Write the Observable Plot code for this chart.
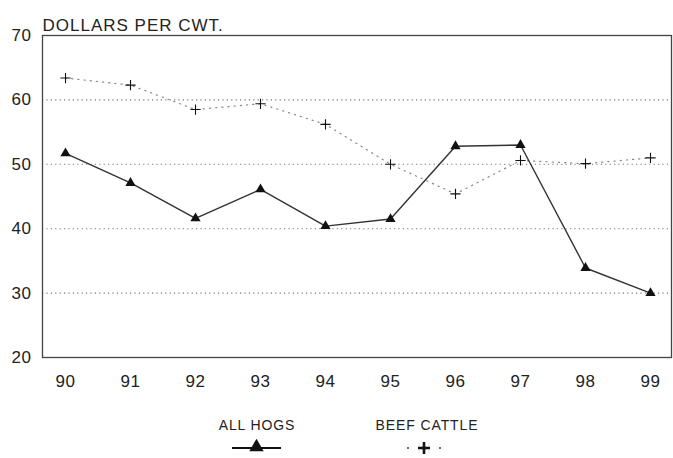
<!DOCTYPE html>
<html>
<head>
<meta charset="utf-8">
<script src="https://cdn.jsdelivr.net/npm/d3@7"></script>
<script src="https://cdn.jsdelivr.net/npm/@observablehq/plot@0.6"></script>
<style>
  html, body { margin: 0; padding: 0; background: #fff; }
  body { width: 673px; height: 458px; overflow: hidden; font-family: "Liberation Sans", Arial, sans-serif; color: #222; }
  #legend { position: relative; width: 673px; height: 58px; }
  .lg { position: absolute; font-size: 14px; letter-spacing: 0.9px; transform: translate(-50%, -50%); white-space: nowrap; }
  .sym { position: absolute; }
  #chart svg g[aria-label="x-axis tick label"] text, #chart svg g[aria-label="y-axis tick label"] text { letter-spacing: 0.6px; }
  #chart svg g[aria-label="text"] text { letter-spacing: 1px; }
</style>
</head>
<body>
<div id="chart"></div>
<div id="legend"></div>
<script>
const years = [90, 91, 92, 93, 94, 95, 96, 97, 98, 99];
const hogs = [51.7, 47.1, 41.6, 46.1, 40.4, 41.5, 52.8, 53.0, 33.9, 30.0];
const cattle = [63.4, 62.3, 58.5, 59.4, 56.2, 50.0, 45.4, 50.6, 50.1, 51.0];
const yTicks = [20, 30, 40, 50, 60, 70];
const gridValues = [30, 40, 50, 60];
const yLabel = "DOLLARS PER CWT.";
const seriesNames = ["ALL HOGS", "BEEF CATTLE"];

const hogData = years.map((y, i) => ({year: y, value: hogs[i]}));
const cattleData = years.map((y, i) => ({year: y, value: cattle[i]}));

const chart = Plot.plot({
  width: 673,
  height: 400,
  marginLeft: 42,
  marginRight: 2,
  marginTop: 35,
  marginBottom: 43,
  style: {fontFamily: "'Liberation Sans', Arial, sans-serif", fontSize: "17px", color: "#222", background: "#fff"},
  x: {domain: [89.646, 99.323], ticks: years, tickFormat: d => String(d), tickSize: 0, tickPadding: 17, label: null},
  y: {domain: [20, 70], ticks: yTicks, tickSize: 0, tickPadding: 11, label: null},
  marks: [
    Plot.ruleY(gridValues, {stroke: "#777", strokeDasharray: "1.2,3.2", strokeWidth: 1.1}),
    Plot.frame({stroke: "#444", strokeWidth: 1.3}),
    Plot.line(cattleData, {x: "year", y: "value", stroke: "#888", strokeWidth: 1.2, strokeDasharray: "1.2,5"}),
    Plot.line(hogData, {x: "year", y: "value", stroke: "#333", strokeWidth: 1.4}),
    Plot.dot(cattleData, {x: "year", y: "value", symbol: "plus", stroke: "#111", strokeWidth: 1.1, r: 3.4}),
    Plot.dot(hogData, {x: "year", y: "value", symbol: "triangle", fill: "#111", stroke: "none", r: 3.8}),
    Plot.text([yLabel], {frameAnchor: "top-left", textAnchor: "start", dy: -17, fontSize: 17, fill: "#222"})
  ]
});
document.getElementById("chart").appendChild(chart);

// Legend
const legend = document.getElementById("legend");
const items = [
  {name: seriesNames[0], cx: 257, kind: "hogs"},
  {name: seriesNames[1], cx: 427, kind: "cattle"}
];
for (const it of items) {
  const t = document.createElement("div");
  t.className = "lg";
  t.style.left = it.cx + "px";
  t.style.top = "25px";
  t.textContent = it.name;
  legend.appendChild(t);
  const s = d3.create("svg").attr("class", "sym").attr("width", 60).attr("height", 20)
    .style("left", (it.cx - 30) + "px").style("top", "38px");
  if (it.kind === "hogs") {
    s.append("line").attr("x1", 5).attr("x2", 54).attr("y1", 10).attr("y2", 10).attr("stroke", "#111").attr("stroke-width", 2.2);
    s.append("path").attr("d", d3.symbol(d3.symbolTriangle, 90)()).attr("transform", "translate(29.5,9)").attr("fill", "#111");
  } else {
    s.append("circle").attr("cx", 11).attr("cy", 10).attr("r", 1).attr("fill", "#333");
    s.append("circle").attr("cx", 43).attr("cy", 10).attr("r", 1).attr("fill", "#333");
    s.append("line").attr("x1", 21).attr("x2", 33).attr("y1", 10).attr("y2", 10).attr("stroke", "#111").attr("stroke-width", 2.6);
    s.append("line").attr("x1", 27).attr("x2", 27).attr("y1", 4).attr("y2", 16).attr("stroke", "#111").attr("stroke-width", 2.6);
  }
  legend.appendChild(s.node());
}
</script>
</body>
</html>
